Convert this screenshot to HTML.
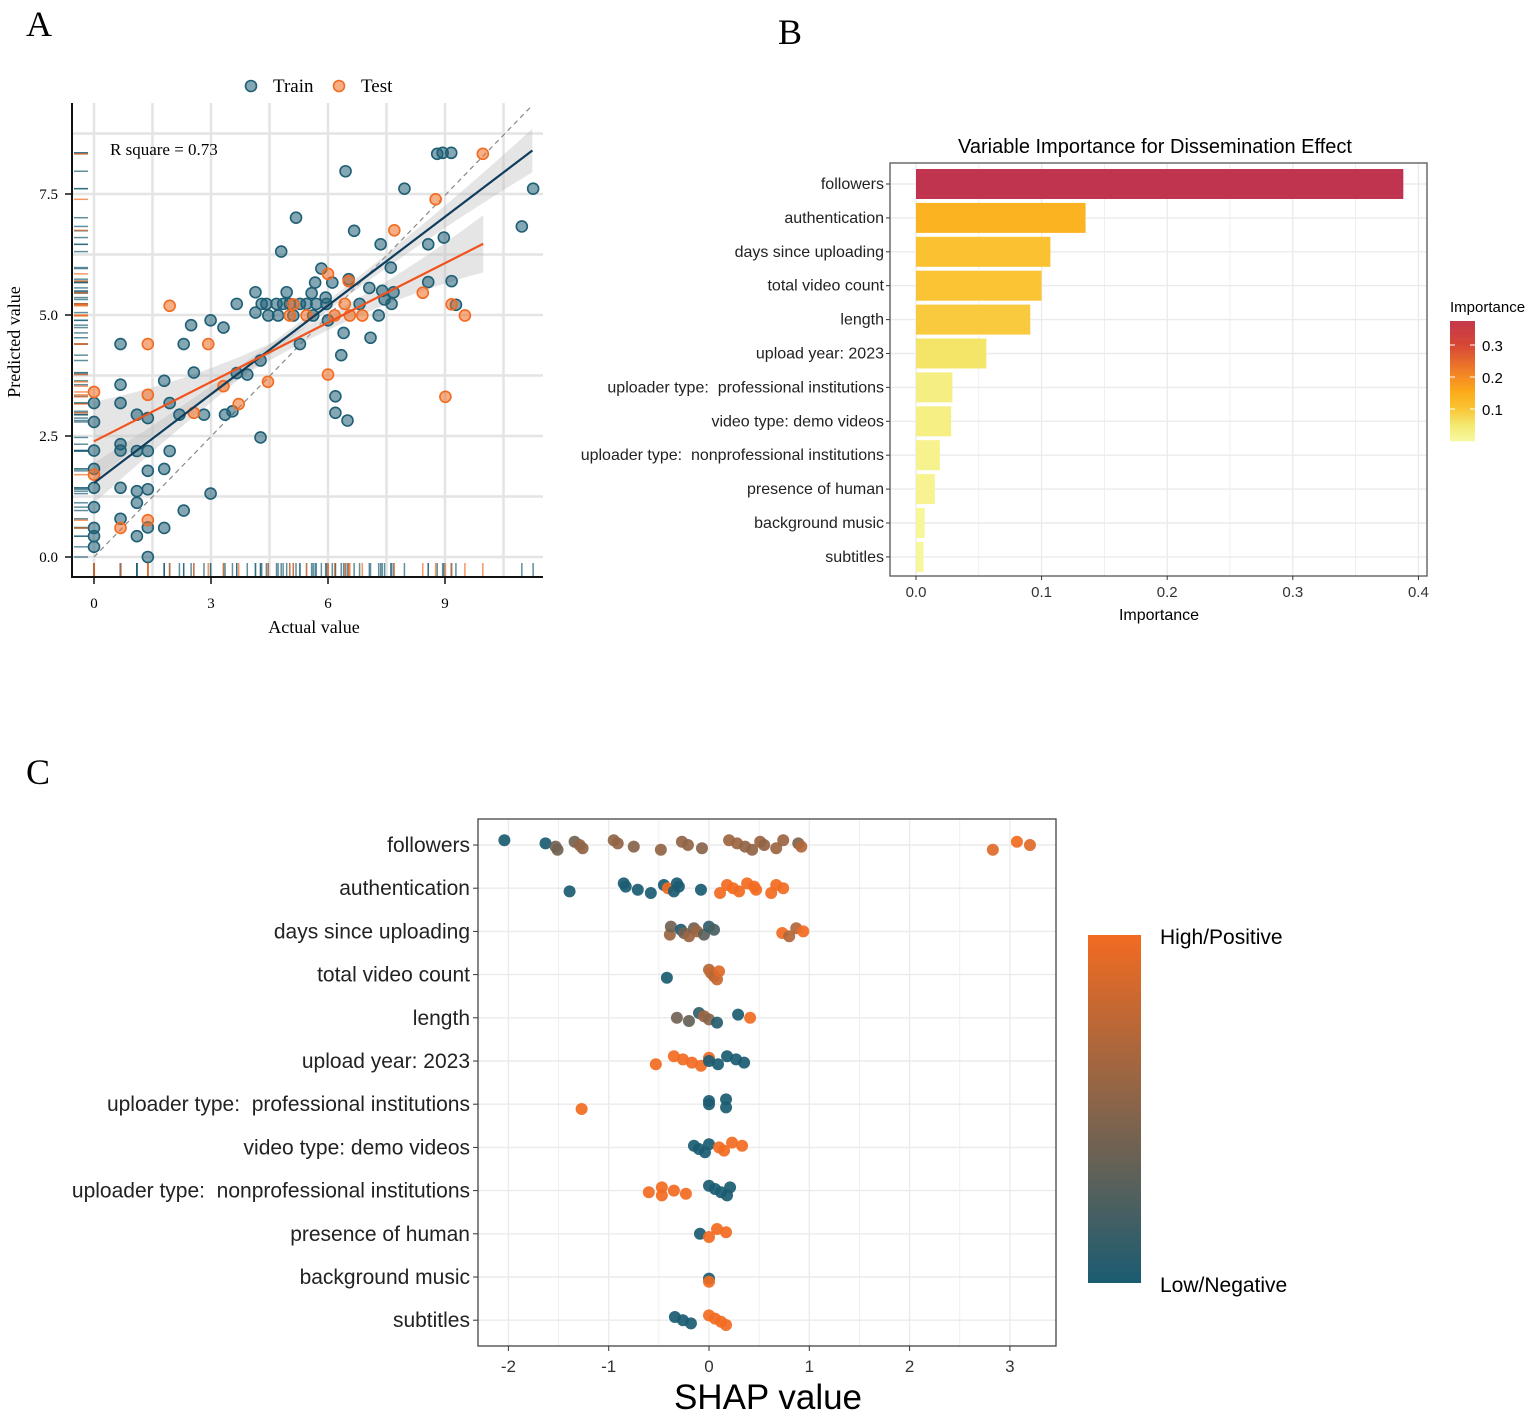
<!DOCTYPE html>
<html><head><meta charset="utf-8"><style>
body{margin:0;background:#fff;}
svg{display:block;}
.serif{font-family:"Liberation Serif",serif;}
.sans{font-family:"Liberation Sans",sans-serif;}
.pre{white-space:pre;}
</style></head><body>
<svg id="fig" width="1535" height="1416" viewBox="0 0 1535 1416" xmlns="http://www.w3.org/2000/svg">
<rect width="1535" height="1416" fill="#fff"/>
<text x="26" y="36" class="serif" font-size="36">A</text>
<text x="778" y="44" class="serif" font-size="36">B</text>
<text x="26" y="784" class="serif" font-size="36">C</text>
<g id="pa"></g>
<g id="pb"></g>
<g id="pc"></g>
</svg>
<script>
// ---------- Panel A data ----------
const trainActual=[8.8,8.94,9.16,6.45,7.96,11.26,5.18,6.67,10.97,7.35,8.57,8.97,4.8,7.61,5.83,5.67,6.11,6.53,8.57,9.17,7.06,4.14,4.94,5.58,7.39,7.68,7.45,5.94,3.66,4.3,4.42,4.68,4.85,5.02,5.28,5.45,5.7,5.96,6.81,7.63,9.28,4.14,4.47,4.72,5.11,5.62,6.0,7.3,2.99,2.49,3.32,6.4,7.09,0.68,2.3,5.28,6.34,2.56,4.27,1.8,0.68,3.66,3.93,1.94,0,0.68,1.1,1.38,2.19,2.82,3.36,3.55,0,6.19,6.19,6.5,4.27,0,0.68,0.68,1.1,1.38,1.94,0,1.38,1.8,0,0.68,1.1,1.38,1.1,2.99,2.3,0,0,0.68,1.38,1.8,1.1,0,0,1.38];
const trainPred=[8.33,8.35,8.35,7.97,7.61,7.61,7.01,6.74,6.83,6.46,6.46,6.6,6.31,5.98,5.96,5.67,5.67,5.74,5.68,5.7,5.56,5.47,5.47,5.45,5.5,5.47,5.32,5.36,5.23,5.23,5.23,5.23,5.23,5.23,5.23,5.23,5.23,5.23,5.23,5.23,5.21,5.05,4.99,4.99,4.99,4.99,4.89,4.99,4.89,4.79,4.74,4.63,4.53,4.4,4.4,4.4,4.17,3.81,4.06,3.64,3.56,3.8,3.77,3.18,3.18,3.18,2.94,2.87,2.94,2.94,2.94,3.01,2.79,3.32,2.98,2.82,2.47,2.2,2.33,2.2,2.19,2.19,2.19,1.82,1.78,1.82,1.43,1.43,1.36,1.4,1.12,1.31,0.96,1.03,0.6,0.79,0.61,0.6,0.43,0.43,0.21,0];
const testActual=[9.97,8.76,7.7,6.0,6.53,1.94,6.43,5.11,5.02,5.45,6.17,6.56,6.88,8.43,9.17,9.51,1.38,2.93,0,1.38,3.32,4.46,6.0,2.56,3.71,9.01,0,0.68,1.38];
const testPred=[8.33,7.39,6.75,5.85,5.7,5.19,5.23,5.22,4.99,4.99,4.99,4.99,4.99,5.46,5.22,4.99,4.4,4.4,3.41,3.35,3.53,3.62,3.77,2.98,3.16,3.31,1.7,0.6,0.76];
const fitIntercept=[1.53,2.39]; // train, test
const fitSlope=[0.611,0.409];
const fitMaxX=[11.24,9.98];
const identityEnd=[11.2,9.3];
const xTicksA=[0,3,6,9];
const yTicksA=[0,2.5,5,7.5];
const yTickLabelsA=["0.0","2.5","5.0","7.5"];
const rSquare="0.73";

// ---------- Panel B data ----------
const features=["followers","authentication","days since uploading","total video count","length","upload year: 2023","uploader type:  professional institutions","video type: demo videos","uploader type:  nonprofessional institutions","presence of human","background music","subtitles"];
const importance=[0.388,0.135,0.107,0.1,0.091,0.056,0.029,0.028,0.019,0.015,0.007,0.006];
const xTicksB=[0,0.1,0.2,0.3,0.4];
const xTickLabelsB=["0.0","0.1","0.2","0.3","0.4"];
const legendTicksB=[0.1,0.2,0.3];

// ---------- Panel C data ----------
const shapRow=[0,0,0,0,0,0,0,0,0,0,0,0,0,0,0,0,0,0,0,0,0,0,0,0,0,0,0,
1,1,1,1,1,1,1,1,1,1,1,1,1,1,1,1,1,1,1,1,1,
2,2,2,2,2,2,2,2,2,2,2,2,2,2,
3,3,3,3,3,3,
4,4,4,4,4,4,4,4,
5,5,5,5,5,5,5,5,5,5,5,
6,6,6,6,6,
7,7,7,7,7,7,7,7,
8,8,8,8,8,8,8,8,8,8,
9,9,9,9,
10,10,
11,11,11,11,11,11,11];
const shapVal=[-2.04,-1.63,-1.53,-1.51,-1.34,-1.29,-1.26,-0.95,-0.91,-0.75,-0.48,-0.27,-0.21,-0.07,0.2,0.28,0.36,0.43,0.51,0.55,0.67,0.74,0.89,0.92,2.83,3.07,3.2,
-1.39,-0.85,-0.83,-0.71,-0.58,-0.45,-0.41,-0.35,-0.32,-0.3,-0.08,0.11,0.18,0.24,0.3,0.38,0.45,0.47,0.62,0.67,0.74,
-0.39,-0.38,-0.28,-0.25,-0.2,-0.15,-0.12,-0.05,0.0,0.05,0.73,0.8,0.87,0.94,
-0.42,0.0,0.02,0.05,0.08,0.1,
-0.32,-0.2,-0.1,-0.05,0.0,0.08,0.29,0.41,
-0.53,-0.35,-0.26,-0.17,-0.08,0.0,0.0,0.09,0.18,0.27,0.35,
-1.27,0.0,0.0,0.17,0.17,
-0.15,-0.1,-0.04,0.0,0.1,0.15,0.23,0.33,
-0.6,-0.47,-0.47,-0.35,-0.23,0.0,0.06,0.12,0.18,0.21,
-0.09,0.0,0.08,0.17,
0.0,0.0,
-0.34,-0.26,-0.18,0.0,0.06,0.12,0.17];
const shapFeat=[0,0,0.4,0.4,0.4,0.55,0.55,0.55,0.55,0.5,0.55,0.55,0.55,0.5,0.6,0.6,0.55,0.55,0.6,0.55,0.6,0.6,0.45,0.7,0.9,1,0.9,
0,0,0,0,0,0,1,0,0,0,0,1,1,1,1,1,1,1,1,1,1,
0.6,0.4,0,0.4,0.6,0.4,0.6,0.3,0.1,0.2,1,0.7,0.7,1,
0,0.7,0.8,0.7,0.8,0.9,
0.4,0.35,0.1,0.6,0.5,0.05,0,1,
1,1,1,1,1,1,0,0,0,0,0,
1,0,0,0,0,
0,0,0,0,1,1,1,1,
1,1,1,1,1,0,0,0,0,0,
0,1,1,1,
0,1,
0,0,0,1,1,1,1];
const xTicksC=[-2,-1,0,1,2,3];

const NS="http://www.w3.org/2000/svg";
function mk(parent,tag,attrs){const e=document.createElementNS(NS,tag);for(const k in attrs)e.setAttribute(k,attrs[k]);parent.appendChild(e);return e;}

// ================= PANEL A =================
(function(){
const g=document.getElementById('pa');
const X0=94,XS=39,Y0=557,YS=48.4;
const x=a=>X0+a*XS, y=p=>Y0-p*YS;
const L=72,R=543,T=103,B=577;
for(let v=0;v<=12;v+=1.5){const gx=x(v);if(gx>R)break;const e=mk(g,'line',{x1:gx,x2:gx,y1:T,y2:B,stroke:'#e4e4e4','stroke-width':2.5});}
for(let v=0;v<=9;v+=1.25){const gy=y(v);if(gy<T)break;const e=mk(g,'line',{x1:L,x2:R,y1:gy,y2:gy,stroke:'#e4e4e4','stroke-width':2.5});}
const defs=mk(g,'defs',{});const cp=mk(defs,'clipPath',{id:'clipA'});mk(cp,'rect',{x:L,y:T,width:R-L,height:B-T});
const inner=mk(g,'g',{'clip-path':'url(#clipA)'});
const id=mk(inner,'line',{x1:x(0),y1:y(0),x2:x(identityEnd[0]),y2:y(identityEnd[1]),stroke:'#888','stroke-width':1.2,'stroke-dasharray':'5,4'});

const s0=[0.1,0.15],s1=[0.0106,0.022];
for(let k=0;k<2;k++){let up=[],dn=[];for(let i=0;i<=40;i++){const a=fitMaxX[k]*i/40;const m=fitIntercept[k]+fitSlope[k]*a;const h=s0[k]+s1[k]*(a-5.5)*(a-5.5);up.push(x(a)+','+y(m+h));dn.unshift(x(a)+','+y(m-h));}
const b=mk(inner,'polygon',{points:up.concat(dn).join(' '),fill:'#bdbdbd','fill-opacity':0.4});}
function pts(A,P,fill,stroke,name){for(let i=0;i<A.length;i++){const c=mk(inner,'circle',{cx:x(A[i]),cy:y(P[i]),r:5.5,fill:fill,'fill-opacity':0.55,stroke:stroke,'stroke-width':1.6});}}
pts(trainActual,trainPred,'#1f5f75','#1f5f75','train-point');
pts(testActual,testPred,'#f26b21','#f26b21','test-point');
const cols=['#0f3d5c','#f0531c'];
for(let k=0;k<2;k++){const l=mk(inner,'line',{x1:x(0),y1:y(fitIntercept[k]),x2:x(fitMaxX[k]),y2:y(fitIntercept[k]+fitSlope[k]*fitMaxX[k]),stroke:cols[k],'stroke-width':2.2});}
function rug(A,P,col,name){for(let i=0;i<A.length;i++){const r1=mk(g,'line',{x1:x(A[i]),x2:x(A[i]),y1:563,y2:576,stroke:col,'stroke-width':1.5,'stroke-opacity':0.7});
const r2=mk(g,'line',{x1:74,x2:88,y1:y(P[i]),y2:y(P[i]),stroke:col,'stroke-width':1.5,'stroke-opacity':0.7});}}
rug(trainActual,trainPred,'#1f5f75','train');rug(testActual,testPred,'#f26b21','test');
const ax=mk(g,'path',{d:`M${L},${T} V${B} H${R}`,fill:'none',stroke:'#111','stroke-width':2});
xTicksA.forEach(v=>{mk(g,'line',{x1:x(v),x2:x(v),y1:B,y2:B+7,stroke:'#111','stroke-width':1.5});const t=mk(g,'text',{x:x(v),y:B+31,'text-anchor':'middle','font-size':15,class:'serif'});t.textContent=v;});
yTicksA.forEach((v,i)=>{mk(g,'line',{x1:L-7,x2:L,y1:y(v),y2:y(v),stroke:'#111','stroke-width':1.5});const t=mk(g,'text',{x:L-14,y:y(v)+5,'text-anchor':'end','font-size':15,class:'serif'});t.textContent=yTickLabelsA[i];});
let t=mk(g,'text',{x:314,y:633,'text-anchor':'middle','font-size':18,class:'serif'});t.textContent='Actual value';
t=mk(g,'text',{x:20,y:342,'text-anchor':'middle','font-size':18,class:'serif',transform:'rotate(-90 20 342)'});t.textContent='Predicted value';
t=mk(g,'text',{x:110,y:155,'font-size':17,class:'serif'});t.textContent='R square = '+rSquare;
const lg=mk(g,'g',{});
mk(lg,'circle',{cx:251,cy:86,r:5.5,fill:'#1f5f75','fill-opacity':0.55,stroke:'#1f5f75','stroke-width':1.6});
t=mk(lg,'text',{x:273,y:92,'font-size':19,class:'serif'});t.textContent='Train';
mk(lg,'circle',{cx:339,cy:86,r:5.5,fill:'#f26b21','fill-opacity':0.55,stroke:'#f26b21','stroke-width':1.6});
t=mk(lg,'text',{x:361,y:92,'font-size':19,class:'serif'});t.textContent='Test';
})();

// ================= PANEL B =================
function impColor(v){const stops=[[0,[248,248,160]],[0.05,[243,232,110]],[0.1,[250,196,52]],[0.15,[252,172,26]],[0.2,[245,138,36]],[0.3,[214,70,54]],[0.39,[192,52,80]]];
for(let i=1;i<stops.length;i++){if(v<=stops[i][0]){const [a,ca]=stops[i-1],[b,cb]=stops[i];const f=(v-a)/(b-a);return 'rgb('+ca.map((c,j)=>Math.round(c+(cb[j]-c)*f)).join(',')+')';}}return 'rgb(192,52,80)';}
(function(){
const g=document.getElementById('pb');
const L=890,R=1427,T=163,B=576;
const x=v=>916+v*1256;
const rowY=i=>184+i*33.9;
for(let v=0;v<=0.4001;v+=0.05){const e=mk(g,'line',{x1:x(v),x2:x(v),y1:T,y2:B,stroke:'#ebebeb','stroke-width':Math.abs(v*10-Math.round(v*10))<1e-6?1.4:0.8});}
features.forEach((f,i)=>{const e=mk(g,'line',{x1:L,x2:R,y1:rowY(i),y2:rowY(i),stroke:'#ebebeb','stroke-width':1.4});});
features.forEach((f,i)=>{const r=mk(g,'rect',{x:x(0),y:rowY(i)-15,width:x(importance[i])-x(0),height:30,fill:impColor(importance[i])});
mk(g,'line',{x1:L-4,x2:L,y1:rowY(i),y2:rowY(i),stroke:'#333'});
const t=mk(g,'text',{x:L-6,y:rowY(i)+5,'text-anchor':'end','font-size':16,class:'sans pre',fill:'#222'});t.textContent=f;});
const bx=mk(g,'rect',{x:L,y:T,width:R-L,height:B-T,fill:'none',stroke:'#555','stroke-width':1.3});
xTicksB.forEach((v,i)=>{mk(g,'line',{x1:x(v),x2:x(v),y1:B,y2:B+4,stroke:'#333'});const t=mk(g,'text',{x:x(v),y:B+21,'text-anchor':'middle','font-size':15,class:'sans',fill:'#333'});t.textContent=xTickLabelsB[i];});
let t=mk(g,'text',{x:1159,y:620,'text-anchor':'middle','font-size':16,class:'sans'});t.textContent='Importance';
t=mk(g,'text',{x:1155,y:153,'text-anchor':'middle','font-size':20,class:'sans'});t.textContent='Variable Importance for Dissemination Effect';
t=mk(g,'text',{x:1450,y:312,'font-size':15,class:'sans'});t.textContent='Importance';
const ly=v=>441-v*320;
for(let v=0;v<0.372;v+=0.005){mk(g,'rect',{x:1450,y:ly(v+0.005),width:25,height:1.9,fill:impColor(v)});}
legendTicksB.forEach(v=>{mk(g,'line',{x1:1450,x2:1455,y1:ly(v),y2:ly(v),stroke:'#fff'});mk(g,'line',{x1:1470,x2:1475,y1:ly(v),y2:ly(v),stroke:'#fff'});const t=mk(g,'text',{x:1482,y:ly(v)+6,'font-size':15,class:'sans'});t.textContent=v.toFixed(1);});
})();

// ================= PANEL C =================
function shapColor(f){const a=[27,92,114],b=[242,107,33];return 'rgb('+a.map((c,j)=>Math.round(c+(b[j]-c)*f)).join(',')+')';}
(function(){
const g=document.getElementById('pc');
const L=478,R=1056,T=819,B=1346;
const x=v=>709+v*100.3;
const rowY=i=>845+i*43.2;
for(let v=-2.5;v<=3.5;v+=0.5){const gx=x(v);if(gx<L||gx>R)continue;const e=mk(g,'line',{x1:gx,x2:gx,y1:T,y2:B,stroke:'#ebebeb','stroke-width':Number.isInteger(v)?1.4:0.8});}
features.forEach((f,i)=>{const e=mk(g,'line',{x1:L,x2:R,y1:rowY(i),y2:rowY(i),stroke:'#ebebeb','stroke-width':1.4});
mk(g,'line',{x1:L-5,x2:L,y1:rowY(i),y2:rowY(i),stroke:'#333'});
const t=mk(g,'text',{x:L-8,y:rowY(i)+7,'text-anchor':'end','font-size':21,class:'sans pre',fill:'#222'});t.textContent=f;});
for(let i=0;i<shapVal.length;i++){const j=((i*37)%7-3)*1.6;const c=mk(g,'circle',{cx:x(shapVal[i]),cy:rowY(shapRow[i])+j,r:6,fill:shapColor(shapFeat[i]),'fill-opacity':0.92});}
const bx=mk(g,'rect',{x:L,y:T,width:R-L,height:B-T,fill:'none',stroke:'#444','stroke-width':1.3});
xTicksC.forEach(v=>{mk(g,'line',{x1:x(v),x2:x(v),y1:B,y2:B+5,stroke:'#333'});const t=mk(g,'text',{x:x(v),y:B+26,'text-anchor':'middle','font-size':17,class:'sans',fill:'#333'});t.textContent=v;});
let t=mk(g,'text',{x:768,y:1409,'text-anchor':'middle','font-size':35,class:'sans'});t.textContent='SHAP value';
const d=mk(g,'defs',{});const lgd=mk(d,'linearGradient',{id:'shapGrad',x1:0,y1:0,x2:0,y2:1});
mk(lgd,'stop',{offset:'0','stop-color':shapColor(1)});mk(lgd,'stop',{offset:'0.5','stop-color':shapColor(0.5)});mk(lgd,'stop',{offset:'1','stop-color':shapColor(0)});
const lr=mk(g,'rect',{x:1088,y:935,width:53,height:348,fill:'url(#shapGrad)'});
t=mk(g,'text',{x:1160,y:944,'font-size':21,class:'sans'});t.textContent='High/Positive';
t=mk(g,'text',{x:1160,y:1292,'font-size':21,class:'sans'});t.textContent='Low/Negative';
})();
</script>
</body></html>
